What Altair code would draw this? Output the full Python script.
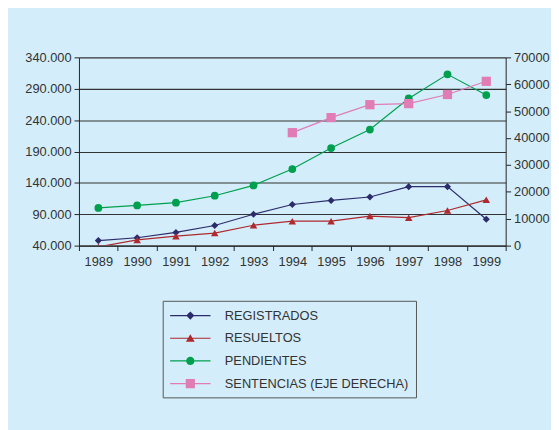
import altair as alt
import pandas as pd

years = ["1989", "1990", "1991", "1992", "1993", "1994", "1995", "1996", "1997", "1998", "1999"]
registrados = [48000, 52500, 61000, 72000, 90000, 105500, 112000, 117500, 134000, 134000, 82000]
resueltos = [38000, 49000, 55000, 60000, 72500, 79000, 79000, 87000, 84500, 96000, 113000]
pendientes = [100000, 104000, 108500, 119500, 136000, 162000, 195500, 225000, 274500, 313000, 280000]
sentencias_years = ["1994", "1995", "1996", "1997", "1998", "1999"]
sentencias = [42000, 47600, 52400, 52800, 56200, 61100]

series_names = ["REGISTRADOS", "RESUELTOS", "PENDIENTES", "SENTENCIAS (EJE DERECHA)"]
series_colors = ["#2D2C6B", "#AE2A2E", "#00A04F", "#E07CB6"]
left_ticks = [40000, 90000, 140000, 190000, 240000, 290000, 340000]
right_ticks = [0, 10000, 20000, 30000, 40000, 50000, 60000, 70000]

BG = "#D3EEFA"
FONT = "Liberation Sans"
TXT = "#333333"

# legend symbols: a thin bar (the line) plus the marker, in unit coordinates
bar = "M-2.5625,-0.07L2.5625,-0.07L2.5625,0.07L-2.5625,0.07Z"
legend_paths = [
    bar + "M0,-0.52L0.52,0L0,0.52L-0.52,0Z",
    bar + "M0,-0.52L0.56,0.45L-0.56,0.45Z",
    bar + "M0.52,0A0.52,0.52 0 1,1 -0.52,0A0.52,0.52 0 1,1 0.52,0Z",
    bar + "M-0.58,-0.58L0.58,-0.58L0.58,0.58L-0.58,0.58Z",
]

x_enc = alt.X(
    "year:O",
    bandPosition=0.5,
    scale=alt.Scale(type="band", domain=years, paddingInner=0, paddingOuter=0),
    axis=alt.Axis(title=None, labelAngle=0, tickBand="extent", grid=False,
                  domainColor="#222222", tickColor="#222222", tickSize=5,
                  labelPadding=5, labelFontSize=13, labelFont=FONT, labelColor=TXT),
)

y_left = alt.Y(
    "value:Q",
    scale=alt.Scale(domain=[40000, 340000], nice=False, zero=False),
    axis=alt.Axis(title=None, values=left_ticks,
                  labelExpr="replace(format(datum.value, ','), ',', '.')",
                  grid=True, gridColor="#333333", gridWidth=1.1,
                  domainColor="#222222", tickColor="#222222", tickSize=5,
                  labelPadding=3, labelFontSize=13, labelFont=FONT, labelColor=TXT),
)

y_right = alt.Y(
    "value:Q",
    scale=alt.Scale(domain=[0, 70000], nice=False),
    axis=alt.Axis(title=None, orient="right", values=right_ticks, format="d",
                  grid=False, domainColor="#222222", tickColor="#222222", tickSize=5,
                  labelPadding=3, labelFontSize=13, labelFont=FONT, labelColor=TXT),
)


def series(yrs, vals, color, shape, size, y_enc, clip=False):
    df = pd.DataFrame({"year": yrs, "value": vals})
    base = alt.Chart(df).encode(x=x_enc, y=y_enc)
    line = base.mark_line(color=color, strokeWidth=1.2, clip=clip)
    pts = base.mark_point(filled=True, shape=shape, size=size, color=color,
                          opacity=1, clip=clip)
    return [line, pts]


left = alt.layer(
    *series(years, registrados, series_colors[0], "diamond", 52, y_left),
    *series(years, resueltos, series_colors[1], "triangle-up", 58, y_left, clip=True),
    *series(years, pendientes, series_colors[2], "circle", 62, y_left),
)
right = alt.layer(
    *series(sentencias_years, sentencias, series_colors[3], "square", 88, y_right),
)

legend_def = alt.Legend(
    title=None, orient="none", legendX=85, legendY=247,
    padding=7, strokeColor="#555555", fillColor=BG, cornerRadius=0,
    symbolSize=256, symbolStrokeWidth=0, symbolOffset=13, labelOffset=27,
    labelFont=FONT, labelFontSize=13, labelColor=TXT, labelLimit=400, rowPadding=8,
)
legend_df = pd.DataFrame({"serie": series_names})
legend_layer = alt.Chart(legend_df).mark_point(filled=True, opacity=1, size=256).encode(
    color=alt.Color("serie:N", scale=alt.Scale(domain=series_names, range=series_colors),
                    legend=legend_def),
    shape=alt.Shape("serie:N", scale=alt.Scale(domain=series_names, range=legend_paths),
                    legend=legend_def),
).transform_filter("false")

chart = alt.layer(left, right, legend_layer).resolve_scale(y="independent").properties(
    width=433, height=191,
    autosize=alt.AutoSizeParams(type="none"),
    padding={"left": 72, "top": 47, "right": 46, "bottom": 184},
).configure(background=BG).configure_view(strokeWidth=0)

chart.save("out.html", embed_options={"renderer": "svg", "actions": False})
